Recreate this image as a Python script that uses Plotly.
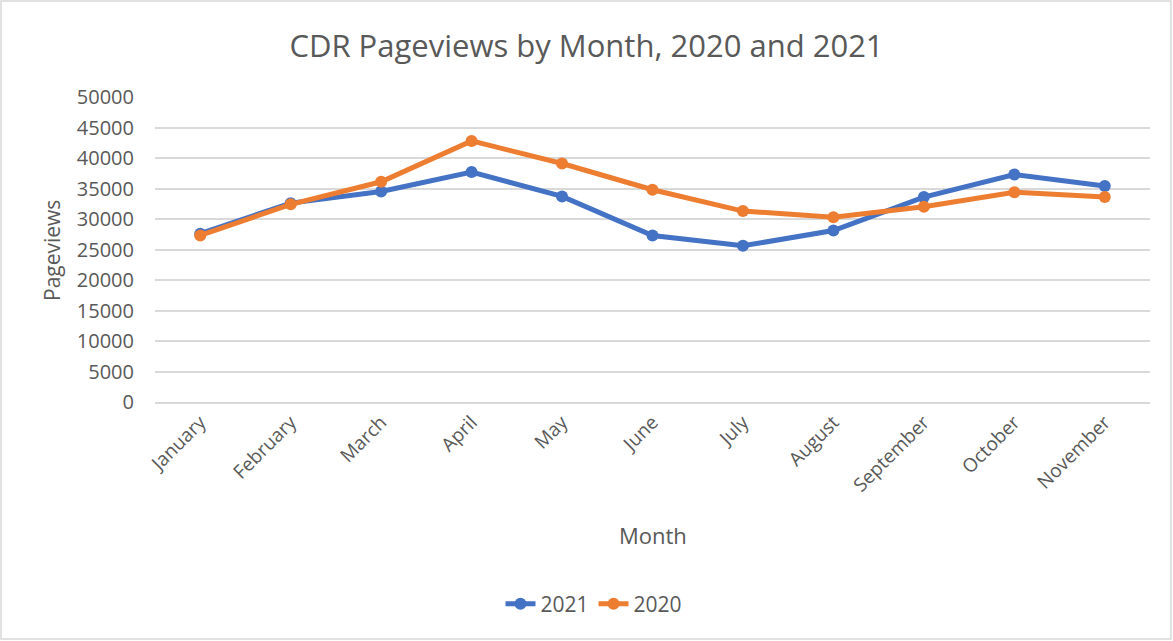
import plotly.graph_objects as go

months = ["January", "February", "March", "April", "May", "June", "July",
          "August", "September", "October", "November"]
views_2021 = [27600, 32600, 34500, 37700, 33700, 27300, 25600, 28100, 33600, 37300, 35400]
views_2020 = [27300, 32400, 36100, 42800, 39100, 34800, 31300, 30300, 32000, 34400, 33600]
y_ticks = [0, 5000, 10000, 15000, 20000, 25000, 30000, 35000, 40000, 45000, 50000]

GRAY = "#595959"
FONT = "Open Sans"

fig = go.Figure()
fig.add_trace(go.Scatter(x=months, y=views_2021, name="2021", mode="lines+markers",
                         line=dict(color="#4472C4", width=5),
                         marker=dict(color="#4472C4", size=12)))
fig.add_trace(go.Scatter(x=months, y=views_2020, name="2020", mode="lines+markers",
                         line=dict(color="#ED7D31", width=5),
                         marker=dict(color="#ED7D31", size=12)))

L, R, T, B = 155, 23, 97, 239
W, H = 1173, 641
pw, ph = W - L - R, H - T - B

def px_x(p):
    return (p - L) / pw

def px_y(p):
    return (H - B - p) / ph

fig.update_layout(
    width=W, height=H,
    margin=dict(l=L, r=R, t=T, b=B),
    paper_bgcolor="white", plot_bgcolor="white",
    font=dict(family=FONT, color=GRAY, size=18),
    title=dict(text="CDR Pageviews by Month, 2020 and 2021", x=0.5, xanchor="center",
               y=1 - 46 / H, yanchor="middle",
               font=dict(family=FONT, size=31, color=GRAY)),
    xaxis=dict(type="category", range=[-0.5, 10.5], tickangle=-45,
               showgrid=False, showline=True, linecolor="#d9d9d9", linewidth=1.5,
               ticks="", tickfont=dict(size=19, color=GRAY), fixedrange=True),
    yaxis=dict(range=[0, 50000], tickvals=y_ticks, ticktext=[str(v) for v in y_ticks],
               showgrid=True, gridcolor="#d9d9d9", gridwidth=1.5,
               zeroline=True, zerolinecolor="#d9d9d9", zerolinewidth=1.5,
               showline=False, ticks="", ticklabelstandoff=20,
               tickfont=dict(size=20, color=GRAY)),
    showlegend=True,
    legend=dict(orientation="h", x=px_x(594), xanchor="center", y=px_y(604), yanchor="middle",
                font=dict(size=21, color=GRAY), traceorder="normal"),
    annotations=[
        dict(text="Month", x=0.5, y=px_y(535), xref="paper", yref="paper",
             showarrow=False, font=dict(size=22, color=GRAY), xanchor="center", yanchor="middle"),
        dict(text="Pageviews", x=px_x(52), y=px_y(251), xref="paper", yref="paper",
             showarrow=False, textangle=-90, font=dict(size=21, color=GRAY),
             xanchor="center", yanchor="middle"),
    ],
    shapes=[dict(type="rect", xref="paper", yref="paper",
                 x0=px_x(1), x1=px_x(W - 2), y0=px_y(H - 2), y1=px_y(1),
                 line=dict(color="#d9d9d9", width=1.5), fillcolor="rgba(0,0,0,0)", layer="below")],
)

fig.write_html("out.html", config={"displayModeBar": False},
               post_script="document.body.style.margin='0';document.body.style.overflow='hidden';")
